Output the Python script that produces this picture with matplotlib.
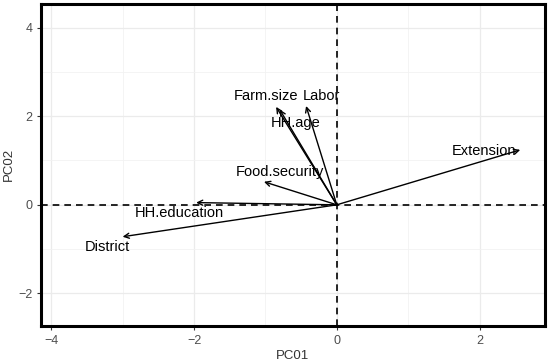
import numpy as np
import matplotlib
matplotlib.use("Agg")
import matplotlib.pyplot as plt

plt.rcParams["font.family"] = ["Liberation Sans", "DejaVu Sans"]

# loadings (arrow tips)
variables = ["Extension", "Farm.size", "HH.age", "Labor", "Food.security", "HH.education", "District"]
pc1 = [2.57, -0.85, -0.80, -0.43, -1.02, -1.97, -3.00]
pc2 = [1.24, 2.21, 2.15, 2.23, 0.52, 0.05, -0.72]

# label positions
label_x = [2.06, -0.99, -0.57, -0.22, -0.80, -2.20, -3.22]
label_y = [1.22, 2.46, 1.85, 2.46, 0.74, -0.18, -0.95]

fig, ax = plt.subplots(figsize=(5.5, 3.62), dpi=100)
fig.subplots_adjust(left=0.075, right=0.99, top=0.99, bottom=0.10)

ax.set_xlim(-4.14, 2.91)
ax.set_ylim(-2.73, 4.54)

# grid (major + minor like ggplot)
ax.set_xticks([-4, -2, 0, 2])
ax.set_yticks([-2, 0, 2, 4])
ax.set_xticks([-3, -1, 1], minor=True)
ax.set_yticks([-1, 1, 3], minor=True)
ax.grid(which="major", color="#ebebeb", linewidth=0.9)
ax.grid(which="minor", color="#f2f2f2", linewidth=0.6)
ax.set_axisbelow(True)
ax.tick_params(which="minor", length=0)
ax.tick_params(which="major", length=3, color="#333333", labelsize=9, labelcolor="#4d4d4d", width=0.8)

# reference lines
ax.axhline(0, color="black", linestyle=(0, (4, 3)), linewidth=1.2)
ax.axvline(0, color="black", linestyle=(0, (4, 3)), linewidth=1.2)

# arrows
for x, y in zip(pc1, pc2):
    ax.annotate("", xy=(x, y), xytext=(0, 0),
                arrowprops=dict(arrowstyle="->", color="black", lw=1.0,
                                shrinkA=0, shrinkB=0, mutation_scale=9))

for name, lx, ly in zip(variables, label_x, label_y):
    ax.text(lx, ly, name, ha="center", va="center", fontsize=10.5, color="black")

for s in ax.spines.values():
    s.set_linewidth(2.2)
    s.set_color("black")

ax.set_xlabel("PC01", fontsize=9.5, color="#333333", labelpad=2)
ax.set_ylabel("PC02", fontsize=9.5, color="#333333", labelpad=2)

fig.savefig("out.png", dpi=100)
